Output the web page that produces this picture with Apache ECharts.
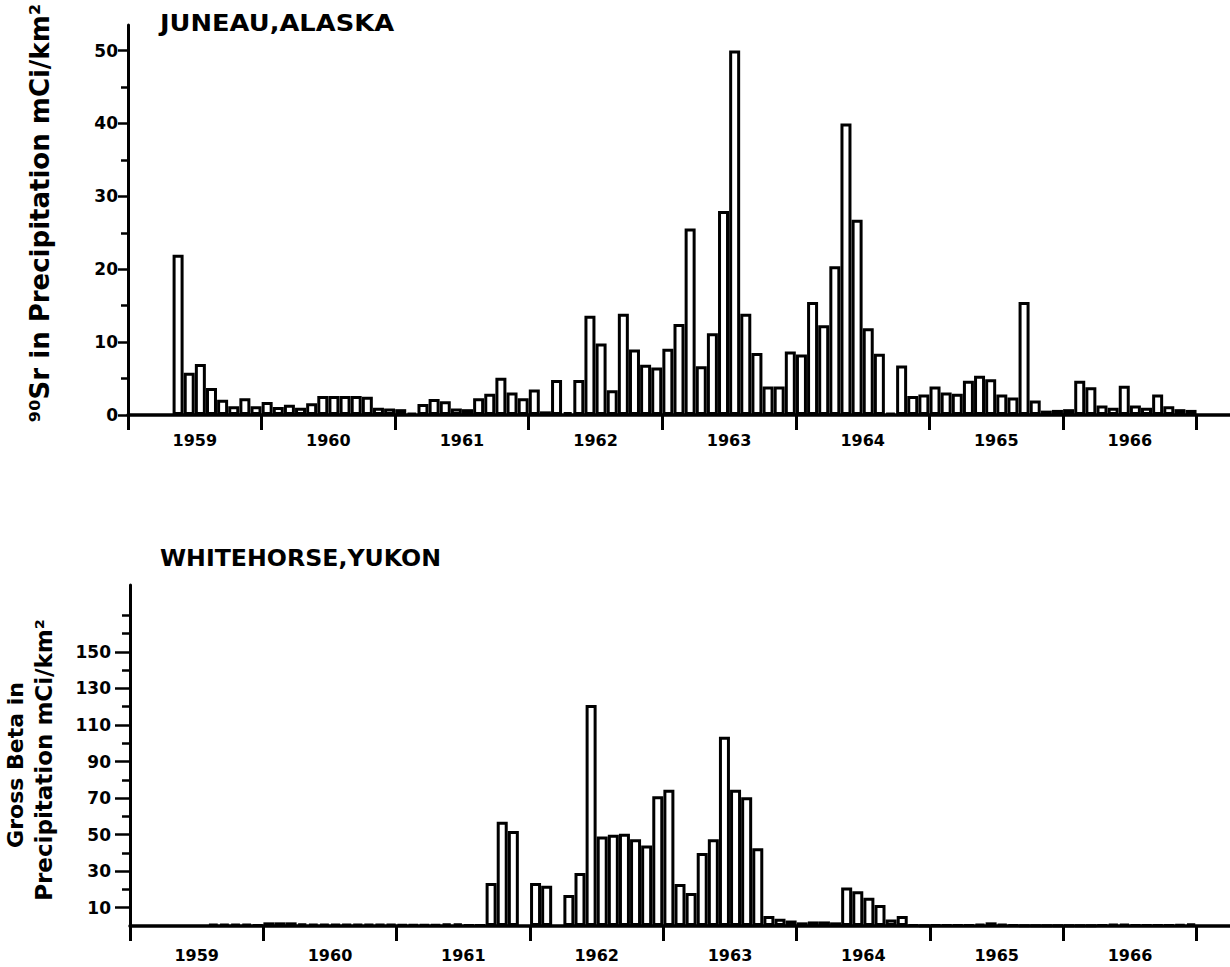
<!DOCTYPE html>
<html><head><meta charset="utf-8">
<script src="https://cdn.jsdelivr.net/npm/echarts@6/dist/echarts.min.js"></script>
<style>html,body{margin:0;padding:0;background:#fff}#c{width:1230px;height:967px}</style>
</head><body><div id="c"></div>
<script>
// ---- data (monthly, Jan 1959 .. Dec 1966; null = no bar) ----
const years = [1959, 1960, 1961, 1962, 1963, 1964, 1965, 1966];
const juneauTitle = 'JUNEAU,ALASKA';
const whitehorseTitle = 'WHITEHORSE,YUKON';
const juneauAxisName = '\u2079\u2070Sr in Precipitation mCi/km\u00b2';
const whitehorseAxisName1 = 'Gross Beta in';
const whitehorseAxisName2 = 'Precipitation mCi/km\u00b2';

const juneauSr90 = [
  null, null, null, null, 22.0, 5.8, 7.0, 3.7, 2.1, 1.2, 2.3, 1.2,
  1.8, 1.1, 1.4, 1.0, 1.6, 2.6, 2.6, 2.6, 2.6, 2.5, 1.0, 0.9,
  0.8, 0.3, 1.5, 2.2, 1.9, 0.9, 0.8, 2.3, 2.9, 5.1, 3.1, 2.3,
  3.5, 0.5, 4.8, 0.4, 4.8, 13.6, 9.8, 3.4, 13.9, 9.0, 6.9, 6.5,
  9.1, 12.5, 25.6, 6.7, 11.2, 28.0, 50.0, 13.9, 8.5, 3.9, 3.9, 8.7,
  8.3, 15.5, 12.3, 20.4, 40.0, 26.8, 11.9, 8.4, 0.3, 6.8, 2.6, 2.8,
  3.9, 3.1, 2.9, 4.7, 5.4, 4.9, 2.8, 2.4, 15.5, 2.0, 0.6, 0.7,
  0.8, 4.7, 3.8, 1.3, 1.0, 4.0, 1.3, 1.0, 2.8, 1.2, 0.8, 0.7
];
const whitehorseGrossBeta = [
  null, null, null, null, null, null, null, 1.2, 1.2, 1.2, 1.2, 0.5,
  2.0, 2.0, 2.0, 1.5, 1.2, 1.2, 1.0, 1.0, 1.0, 1.0, 1.0, 1.0,
  0.8, 0.8, 0.8, 0.8, 1.5, 1.5, 0.5, 0.5, 23.5, 57, 52, null,
  23.5, 22, null, 17, 29, 121, 49, 50, 50.5, 47.5, 44, 71,
  74.5, 23, 18, 40, 47.5, 103.5, 74.5, 70.5, 42.5, 5.5, 4, 3,
  2, 2.5, 2.5, 2, 21, 19, 15.5, 11.5, 3.5, 5.5, 0.5, 0.3,
  0.5, 0.5, 0.5, 0.5, 1, 2, 1, 0.5, 0.3, 0.3, 0.3, 0.3,
  0.3, 0.3, 0.3, 0.5, 1, 1, 0.5, 0.5, 0.5, 0.5, 0.8, 1.5
];
const juneauLabelTicks = [0, 10, 20, 30, 40, 50];
const juneauMinorTicks = [5, 15, 25, 35, 45];
const whitehorseLabelTicks = [10, 30, 50, 70, 90, 110, 130, 150];
const whitehorseMinorTicks = [20, 40, 60, 80, 100, 120, 140, 160, 170];

// ---- build ----
const FONT = '"DejaVu Sans", "Noto Sans", sans-serif';
const yearTicks = years.map((y, i) => i * 12).concat([years.length * 12]);
const yearMid = years.map((y, i) => i * 12 + 6);
const toPoints = arr => arr.map((v, i) => v == null ? null : [i + 0.5, v]).filter(p => p);

function xAxis(gi, margin) {
  return {
    type: 'value', gridIndex: gi, min: 0, max: 99,
    axisLine: { lineStyle: { color: '#000', width: 3.5 } },
    axisTick: { customValues: yearTicks, length: 15, lineStyle: { color: '#000', width: 3 } },
    axisLabel: {
      customValues: yearMid, margin: margin, color: '#000', fontWeight: 'bold', fontSize: 16, fontFamily: FONT,
      formatter: v => String(years[(v - 6) / 12])
    },
    splitLine: { show: false }
  };
}
function yAxes(gi, max, minor, major, minorLen, majorLen, margin) {
  return [
    { type: 'value', gridIndex: gi, min: 0, max: max, position: 'left',
      axisLine: { show: true, lineStyle: { color: '#000', width: 3 } },
      axisTick: { show: true, customValues: minor, length: minorLen, lineStyle: { color: '#000', width: 2.5 } },
      axisLabel: { show: false }, splitLine: { show: false } },
    { type: 'value', gridIndex: gi, min: 0, max: max, position: 'left',
      axisLine: { show: false },
      axisTick: { show: true, customValues: major, length: majorLen, lineStyle: { color: '#000', width: 2.5 } },
      axisLabel: { customValues: major, margin: margin, color: '#000', fontWeight: 'bold', fontSize: 17, fontFamily: FONT },
      splitLine: { show: false } }
  ];
}
const barStyle = { color: '#fff', borderColor: '#000', borderWidth: 3 };

const chart = echarts.init(document.getElementById('c'), null, { renderer: 'svg' });
chart.setOption({
  backgroundColor: '#fff',
  animation: false,
  grid: [
    { left: 128, top: 25, width: 1106, height: 390 },
    { left: 130, top: 585, width: 1106, height: 341 }
  ],
  xAxis: [xAxis(0, 17), xAxis(1, 21)],
  yAxis: yAxes(0, 53.5, juneauMinorTicks, juneauLabelTicks, 7, 10, 10)
    .concat(yAxes(1, 186.6, whitehorseMinorTicks, whitehorseLabelTicks, 8, 15, 19)),
  series: [
    { type: 'bar', xAxisIndex: 0, yAxisIndex: 0, barWidth: 11, itemStyle: barStyle, silent: true,
      data: toPoints(juneauSr90) },
    { type: 'bar', xAxisIndex: 1, yAxisIndex: 2, barWidth: 11, itemStyle: barStyle, silent: true,
      data: toPoints(whitehorseGrossBeta) }
  ],
  graphic: [
    { type: 'text', x: 160, y: 23, scaleX: 1.12, style: { text: juneauTitle, fill: '#000',
      font: 'bold 23px ' + FONT, textAlign: 'left', textVerticalAlign: 'middle' } },
    { type: 'text', x: 160, y: 558, scaleX: 1.03, style: { text: whitehorseTitle, fill: '#000',
      font: 'bold 23px ' + FONT, textAlign: 'left', textVerticalAlign: 'middle' } },
    { type: 'text', x: 40, y: 213, rotation: Math.PI / 2, style: { text: juneauAxisName, fill: '#000',
      font: 'bold 26px ' + FONT, textAlign: 'center', textVerticalAlign: 'middle' } },
    { type: 'text', x: 15, y: 765, rotation: Math.PI / 2, style: { text: whitehorseAxisName1, fill: '#000',
      font: 'bold 22px ' + FONT, textAlign: 'center', textVerticalAlign: 'middle' } },
    { type: 'text', x: 44, y: 760, rotation: Math.PI / 2, style: { text: whitehorseAxisName2, fill: '#000',
      font: 'bold 23px ' + FONT, textAlign: 'center', textVerticalAlign: 'middle' } }
  ]
});
</script></body></html>
